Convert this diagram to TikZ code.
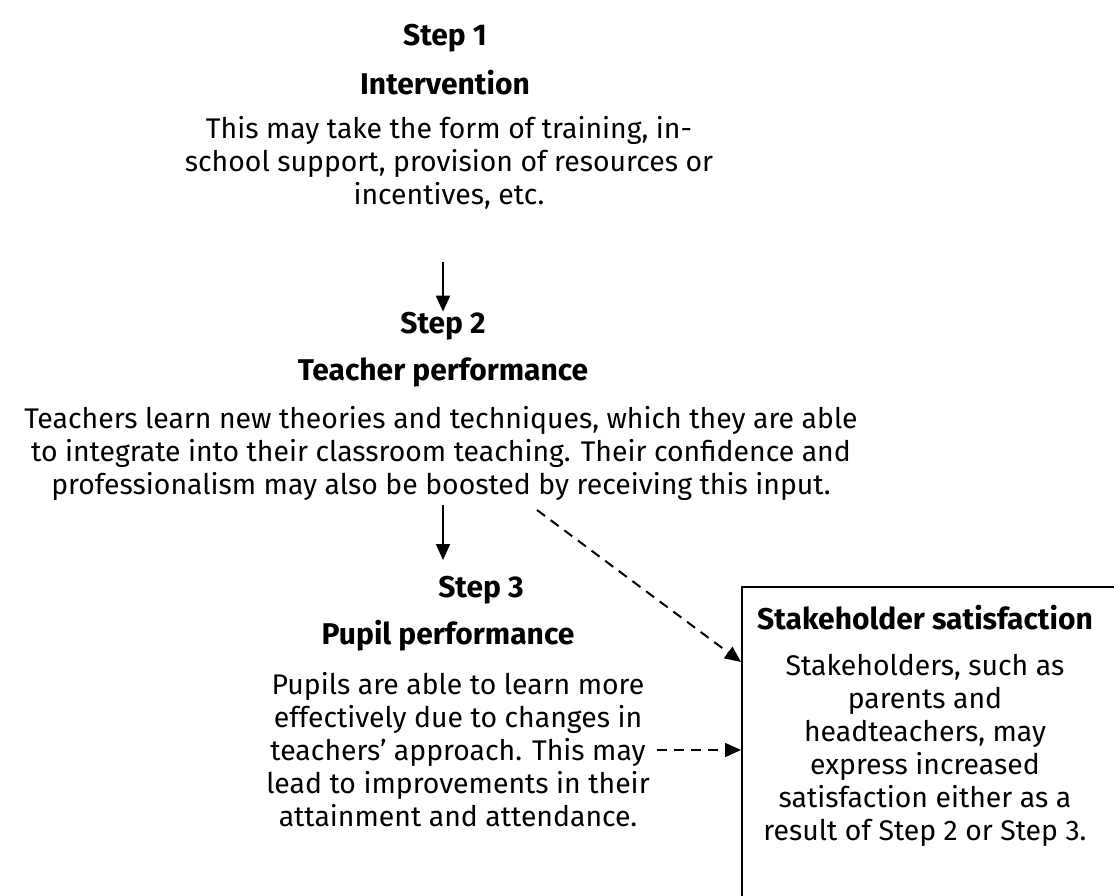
\documentclass[tikz,border=0pt]{standalone}
\usepackage{fontspec}
\setmainfont{Fira Sans}
\usetikzlibrary{arrows.meta, positioning}

\begin{document}
\begin{tikzpicture}[x=0.5pt, y=-0.5pt,
    every node/.style={font=\fontsize{14.2}{16.5}\selectfont, inner sep=0pt},
    head/.style={font=\fontsize{15}{16.5}\selectfont\bfseries},
    desc/.style={align=center},
    arrow/.style={-{Triangle[length=8pt, width=7pt]}, line width=1pt},
    dasharrow/.style={arrow, dash pattern=on 5pt off 3.5pt}]
    \useasboundingbox (0,0) rectangle (1114,895);
    % step 1
    \node[head] (s1) at (445,38) {Step 1};
    \node[head] (s1t) at (445,83) {Intervention};
    \node[desc] (s1d) at (449,163) {This may take the form of training, in-\\school support, provision of resources or\\incentives, etc.};
    % step 2
    \node[head] (s2) at (443,326) {Step 2};
    \node[head] (s2t) at (443,372) {Teacher performance};
    \node[desc] (s2d) at (441,453) {Teachers learn new theories and techniques, which they are able\\to integrate into their classroom teaching. Their confidence and\\professionalism may also be boosted by receiving this input.};
    % step 3
    \node[head] (s3) at (481,590) {Step 3};
    \node[head] (s3t) at (448,636) {Pupil performance};
    \node[desc] (s3d) at (458,750) {Pupils are able to learn more\\effectively due to changes in\\teachers' approach. This may\\lead to improvements in their\\attainment and attendance.};
    % stakeholders
    \node[draw, line width=1pt, minimum width=500, minimum height=400, anchor=north west] (sh) at (741,586) {};
    \node[head] (sht) at (925,618) {Stakeholder satisfaction};
    \node[desc] (shd) at (925,750) {Stakeholders, such as\\parents and\\headteachers, may\\express increased\\satisfaction either as a\\result of Step 2 or Step 3.};
    \coordinate (a1) at (443,262);
    \coordinate (a2) at (443,505);
    \coordinate (d1) at (537,510);
    \coordinate (d2) at (657,750);
    \draw[arrow] (a1) -- (a1 |- s2.north);
    \draw[arrow] (a2) -- (443,560);
    \draw[dasharrow] (d1) -- (sh.west |- 0,662);
    \draw[dasharrow] (d2) -- (sh.west |- 0,750);
\end{tikzpicture}
\end{document}
